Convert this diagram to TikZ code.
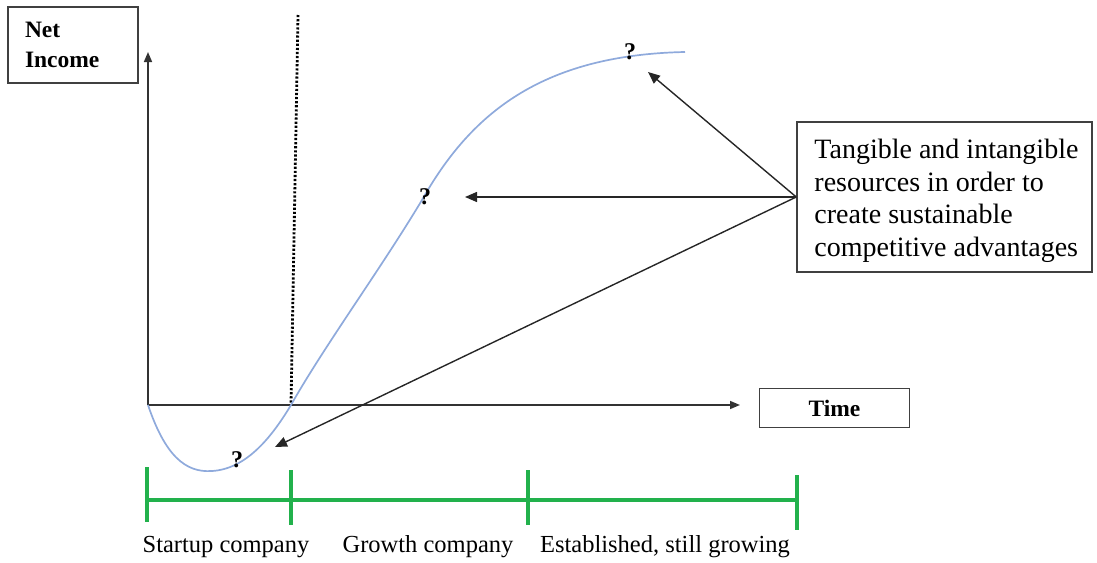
\documentclass[tikz,border=0pt]{standalone}
\usepackage{fontspec}
\setmainfont{Liberation Serif}
\usetikzlibrary{arrows.meta}
\definecolor{curveblue}{RGB}{143,170,220}
\definecolor{phasegreen}{RGB}{34,177,76}
\tikzset{
  axis/.style={draw=black!80, line width=1.6pt, -{Triangle[length=10pt,width=8pt]}},
  pointer/.style={draw=black!85, line width=1.4pt, -{Triangle[length=12pt,width=10pt]}},
  labelbox/.style={draw=black!75, line width=1.5pt, inner sep=0pt},
  qmark/.style={font=\fontsize{24}{26}\selectfont\bfseries, inner sep=0pt},
  phase/.style={draw=phasegreen, line width=4pt},
  phaselabel/.style={font=\fontsize{24.5}{26}\selectfont, inner sep=0pt}
}
\begin{document}
\begin{tikzpicture}[x=1pt,y=-1pt]
\useasboundingbox (0,0) rectangle (1097,562);

% axis labels
\node[labelbox, minimum width=130pt, minimum height=76pt, text width=96pt,
      align=left, font=\fontsize{23.5}{30}\selectfont\bfseries] (ni) at (73,45) {Net\\Income};
\node[labelbox, minimum width=150pt, minimum height=39pt,
      font=\fontsize{23.5}{26}\selectfont\bfseries] (time) at (834.5,408) {Time};

% axes
\coordinate (origin) at (148,405);
\coordinate (ytip) at (148,52);
\coordinate (xtip) at (740,405);
\draw[axis] (origin) -- (ytip);
\draw[axis] (origin) -- (xtip);

% boundary between startup and growth phases
\coordinate (dtop) at (298,15);
\coordinate (dbot) at (291,405);
\draw[black, line width=2.8pt, dash pattern=on 2.2pt off 1.9pt] (dtop) -- (dbot);

% net income curve
\draw[curveblue, line width=1.7pt] (origin)
  .. controls (165,455) and (185,473) .. (212,471)
  .. controls (245,469) and (270,440) .. (dbot)
  .. controls (325,345) and (380,270) .. (422,200)
  .. controls (470,115) and (540,55) .. (685,52);

% question marks
\node[qmark] (q1) at (237,460) {?};
\node[qmark] (q2) at (425,197) {?};
\node[qmark] (q3) at (630,52) {?};

% resources box and pointers
\node[labelbox, minimum width=295pt, minimum height=150pt] (res) at (944.5,197) {};
\node[anchor=west, inner sep=0pt, align=left, font=\fontsize{28}{32.5}\selectfont]
  (restext) at ([xshift=18pt,yshift=-4pt]res.west)
  {Tangible and intangible\\resources in order to\\create sustainable\\competitive advantages};
\coordinate (t3) at (648,72);
\coordinate (t2) at (465,197);
\coordinate (t1) at (275,447);
\draw[pointer] (res.west) -- (t3);
\draw[pointer] (res.west) -- (t2);
\draw[pointer] (res.west) -- (t1);

% company phases
\coordinate (p0) at (147,500);
\coordinate (p1) at (291,500);
\coordinate (p2) at (528,500);
\coordinate (p3) at (797,500);
\draw[phase] (p0) -- (p3);
\foreach \p/\a/\b in {p0/33/-22, p1/30/-25, p2/30/-25, p3/25/-30}
  \draw[phase] ([yshift=\a pt]\p) -- ([yshift=\b pt]\p);
\node[phaselabel] (l1) at (226,547) {Startup company};
\node[phaselabel] (l2) at (428,547) {Growth company};
\node[phaselabel] (l3) at (665,547) {Established, still growing};
\end{tikzpicture}
\end{document}
